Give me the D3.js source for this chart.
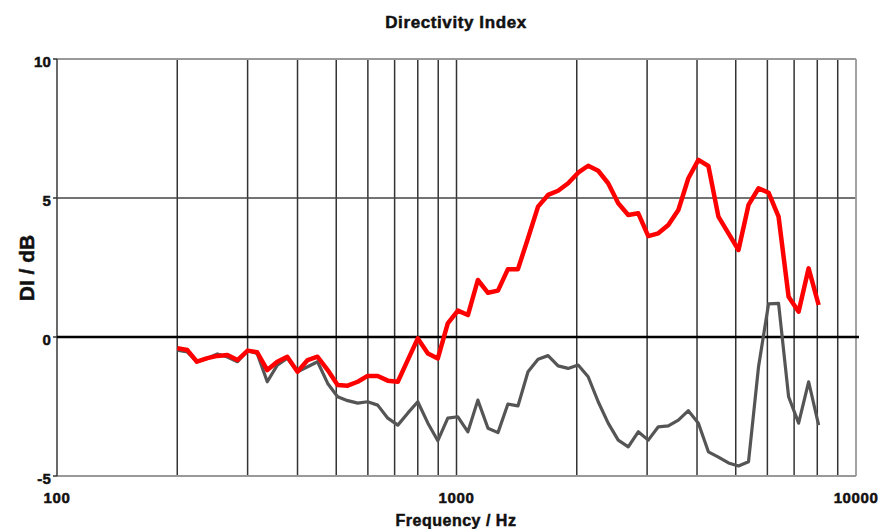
<!DOCTYPE html>
<html><head><meta charset="utf-8">
<script src="https://cdn.jsdelivr.net/npm/d3@7"></script>
<style>
html,body{margin:0;padding:0;background:#fff;}
text{font-family:"Liberation Sans",Arial,sans-serif;font-weight:bold;fill:#111;stroke:#111;stroke-width:0.5;}
</style></head>
<body><svg id="c" width="881" height="529"></svg>
<script>
const frequencies = [200,212,224,238,252,267,283,300,317,336,356,377,400,424,449,476,504,534,566,599,635,673,713,755,800,848,898,951,1008,1068,1131,1199,1270,1345,1425,1510,1600,1695,1796,1903,2016,2136,2263,2397,2540,2691,2851,3020,3200,3390,3592,3805,4032,4271,4525,4795,5080,5382,5702,6041,6400,6781,7184,7611,8063];
const redDI = [-0.40,-0.47,-0.89,-0.76,-0.68,-0.65,-0.83,-0.49,-0.55,-1.19,-0.89,-0.71,-1.25,-0.83,-0.71,-1.19,-1.73,-1.75,-1.61,-1.40,-1.40,-1.57,-1.61,-0.83,-0.05,-0.59,-0.77,0.49,0.95,0.79,2.05,1.59,1.67,2.44,2.44,3.55,4.69,5.11,5.26,5.53,5.91,6.16,5.98,5.53,4.81,4.39,4.45,3.63,3.73,4.03,4.57,5.71,6.37,6.15,4.33,3.73,3.13,4.75,5.35,5.19,4.33,1.45,0.91,2.47,1.15];
const grayDI = [-0.47,-0.54,-0.89,-0.76,-0.61,-0.72,-0.89,-0.49,-0.59,-1.61,-1.01,-0.76,-1.25,-1.07,-0.89,-1.67,-2.15,-2.29,-2.38,-2.33,-2.45,-2.92,-3.17,-2.74,-2.33,-3.10,-3.73,-2.92,-2.87,-3.41,-2.27,-3.28,-3.44,-2.41,-2.48,-1.25,-0.80,-0.67,-1.04,-1.13,-1.01,-1.43,-2.33,-3.10,-3.71,-3.95,-3.41,-3.71,-3.23,-3.20,-2.99,-2.65,-3.10,-4.13,-4.32,-4.53,-4.64,-4.49,-1.07,1.19,1.21,-2.15,-3.10,-1.61,-3.17];
const xTicks = [100,1000,10000];
const xGrid = [200,300,400,500,600,700,800,900,1000,2000,3000,4000,5000,6000,7000,8000,9000];
const yTicks = [-5,0,5,10];

const svg = d3.select("#c");
const L=57, R=856, T=59, B=476;
const x = d3.scaleLog().domain([100,10000]).range([L,R]);
const y = d3.scaleLinear().domain([-5,10]).range([B,T]);

// vertical grid
svg.append("g").selectAll("line").data(xGrid).join("line")
  .attr("x1",d=>x(d)).attr("x2",d=>x(d)).attr("y1",T).attr("y2",B)
  .attr("stroke","#333").attr("stroke-width",1.5);
// horizontal grid
svg.append("g").selectAll("line").data([5]).join("line")
  .attr("x1",L).attr("x2",R).attr("y1",d=>y(d)).attr("y2",d=>y(d))
  .attr("stroke","#444").attr("stroke-width",1.5);
// border
svg.append("line").attr("x1",L).attr("x2",R).attr("y1",T).attr("y2",T).attr("stroke","#999").attr("stroke-width",1.8);
svg.append("line").attr("x1",L).attr("x2",R).attr("y1",B).attr("y2",B).attr("stroke","#999").attr("stroke-width",1.8);
svg.append("line").attr("x1",R).attr("x2",R).attr("y1",T).attr("y2",B).attr("stroke","#999").attr("stroke-width",1.8);
svg.append("line").attr("x1",L).attr("x2",L).attr("y1",T).attr("y2",B).attr("stroke","#444").attr("stroke-width",1.6);
// zero line
svg.append("line").attr("x1",L).attr("x2",R+3).attr("y1",y(0)).attr("y2",y(0)).attr("stroke","#000").attr("stroke-width",2.4);
// y tick marks
svg.append("g").selectAll("line").data(yTicks).join("line")
  .attr("x1",L-4).attr("x2",L).attr("y1",d=>y(d)).attr("y2",d=>y(d)).attr("stroke","#333").attr("stroke-width",1.5);

// series
const line = d3.line().x((d,i)=>x(frequencies[i])).y(d=>y(d));
svg.append("path").datum(grayDI).attr("d",line).attr("fill","none")
  .attr("stroke","#555").attr("stroke-width",3.2).attr("stroke-linejoin","round");
svg.append("path").datum(redDI).attr("d",line).attr("fill","none")
  .attr("stroke","#ff0000").attr("stroke-width",4.5).attr("stroke-linejoin","round");

// y tick labels
svg.append("g").selectAll("text").data(yTicks).join("text")
  .attr("x",L-6).attr("y",d=>y(d)+8).attr("text-anchor","end")
  .attr("font-size",15).attr("letter-spacing",0.2).text(d=>d);
// x tick labels
svg.append("g").selectAll("text").data(xTicks).join("text")
  .attr("x",d=>x(d)).attr("y",503).attr("text-anchor","middle")
  .attr("font-size",15).attr("letter-spacing",0.6).text(d=>d);

svg.append("text").attr("x",456).attr("y",28).attr("text-anchor","middle").attr("font-size",17).attr("letter-spacing",0.6).text("Directivity Index");
svg.append("text").attr("x",456).attr("y",526).attr("text-anchor","middle").attr("font-size",16).attr("letter-spacing",0.5).text("Frequency / Hz");
svg.append("text").attr("transform","translate(34,268) rotate(-90)").attr("text-anchor","middle").attr("font-size",21).attr("letter-spacing",0).text("DI / dB");
</script></body></html>
